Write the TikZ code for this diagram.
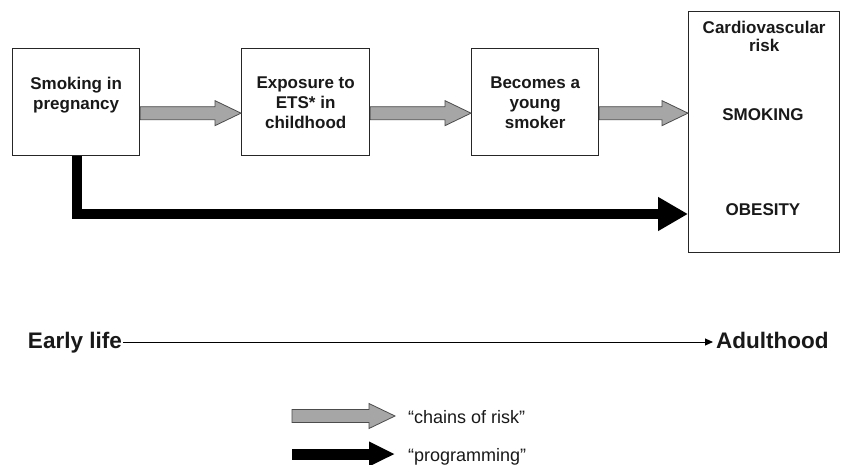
\documentclass[tikz,border=0pt]{standalone}
\usepackage{fontspec}
\setmainfont{Liberation Sans}
\usetikzlibrary{arrows.meta,calc}
\newcommand\grayarr[2]{%
  \filldraw[chain] let \p1=#1, \p2=#2 in
    (\x1,\y1+6.5pt) -- (\x2-26pt,\y1+6.5pt) -- (\x2-26pt,\y1+12.5pt) -- (\x2,\y1)
    -- (\x2-26pt,\y1-12.5pt) -- (\x2-26pt,\y1-6.5pt) -- (\x1,\y1-6.5pt) -- cycle;}
\begin{document}
\begin{tikzpicture}[x=1pt,y=-1pt,
  box/.style={draw=black!85, line width=1.3pt, inner sep=0pt, anchor=north west},
  lbl/.style={font=\fontsize{17}{20}\selectfont\bfseries, align=center, inner sep=0pt, text=black!90},
  tl/.style={font=\fontsize{22.5}{26}\selectfont\bfseries, inner sep=0pt, text=black!90},
  leg/.style={font=\fontsize{18}{22}\selectfont, inner sep=0pt, anchor=base west, text=black!90},
  chain/.style={fill=black!35, draw=black!70, line width=0.8pt, line join=miter},
  prog/.style={draw=black, line width=10pt, line join=miter,
    -{Triangle[length=30pt,width=32pt]}},
  progleg/.style={draw=black, line width=11pt,
    -{Triangle[length=26pt,width=23pt]}}]
\fill[white] (0,0) rectangle (843,464);
\useasboundingbox (0,0) rectangle (843,464);

% boxes
\node[box, minimum width=127pt, minimum height=107pt] (b1) at (12,48) {};
\node[box, minimum width=128pt, minimum height=107pt] (b2) at (241,48) {};
\node[box, minimum width=127pt, minimum height=107pt] (b3) at (471,48) {};
\node[box, minimum width=151pt, minimum height=241pt] (b4) at (688,11) {};

% box texts
\node[lbl, anchor=north] (t1) at ([yshift=-29pt]b1.north) {Smoking in\\pregnancy};
\node[lbl, anchor=north] (t2) at ([yshift=-29pt]b2.north) {Exposure to\\ETS* in\\childhood};
\node[lbl, anchor=north] (t3) at ([yshift=-29pt]b3.north) {Becomes a\\young\\smoker};
\node[lbl, anchor=north, font=\fontsize{17}{18}\selectfont\bfseries] (t4) at ([yshift=-10pt]b4.north) {Cardiovascular\\risk};
\node[lbl] (smk) at (763,115) {SMOKING};
\node[lbl] (obs) at (763,210) {OBESITY};

% chains of risk
\grayarr{([yshift=-11pt]b1.east)}{([yshift=-11pt]b2.west)}
\grayarr{([yshift=-11pt]b2.east)}{([yshift=-11pt]b3.west)}
\grayarr{([yshift=-11pt]b3.east)}{([yshift=-11pt]b3.east -| b4.west)}

% programming
\coordinate (bend) at (77,214);
\draw[prog] (b1.south -| bend) -- (bend) -- (bend -| b4.west);

% timeline
\node[tl, anchor=base east] (early) at (122,348) {Early life};
\node[tl, anchor=base west] (adult) at (716,348) {Adulthood};
\draw[line width=1pt, -{Triangle[length=8pt,width=7pt]}]
  ([xshift=1pt,yshift=6pt]early.base east) -- ([xshift=-3pt,yshift=6pt]adult.base west);

% legend
\coordinate (lg1s) at (292,416);
\coordinate (lg1e) at (395,416);
\coordinate (lg2s) at (292,454);
\coordinate (lg2e) at (395,454);
\grayarr{(lg1s)}{(lg1e)}
\draw[progleg] (lg2s) -- (lg2e);
\node[leg] (lgt1) at (408,423) {“chains of risk”};
\node[leg] (lgt2) at (408,461) {“programming”};
\end{tikzpicture}
\end{document}
